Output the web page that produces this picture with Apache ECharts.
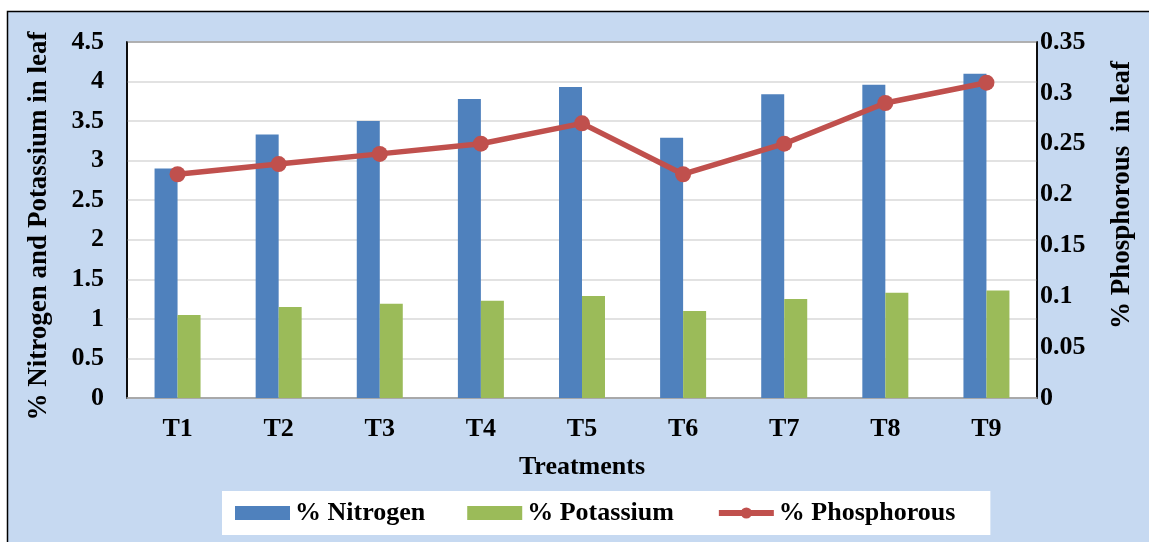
<!DOCTYPE html>
<html>
<head>
<meta charset="utf-8">
<script src="https://cdn.jsdelivr.net/npm/echarts@6/dist/echarts.min.js"></script>
<style>
html,body{margin:0;padding:0;background:#fff;}
#c{width:1149px;height:542px;}
</style>
</head>
<body>
<div id="c"></div>
<script>
const categories = ['T1','T2','T3','T4','T5','T6','T7','T8','T9'];
const nitrogen = [2.90, 3.33, 3.50, 3.78, 3.93, 3.29, 3.84, 3.96, 4.10];
const potassium = [1.05, 1.15, 1.19, 1.23, 1.29, 1.10, 1.25, 1.33, 1.36];
const phosphorous = [0.22, 0.23, 0.24, 0.25, 0.27, 0.22, 0.25, 0.29, 0.31];

const font = 'Liberation Serif, Times New Roman, serif';
const txt = (size) => ({fontFamily: font, fontWeight: 'bold', fontSize: size, color: '#000'});
const chart = echarts.init(document.getElementById('c'));
chart.setOption({
  animation: false,
  backgroundColor: '#fff',
  graphic: [{
    type: 'rect', z: -10, silent: true,
    shape: {x: 7.5, y: 11.5, width: 1160, height: 560},
    style: {fill: '#C6D9F1', stroke: '#000', lineWidth: 1.5}
  }],
  grid: {
    left: 127, right: 112, top: 42, bottom: 144,
    show: true, backgroundColor: '#fff', borderColor: '#000', borderWidth: 1.5
  },
  legend: {
    bottom: 7, left: 222,
    backgroundColor: '#fff',
    padding: [9, 35, 9, 13],
    itemGap: 42,
    itemWidth: 55, itemHeight: 14,
    textStyle: txt(26),
    data: [
      {name: '% Nitrogen', icon: 'rect'},
      {name: '% Potassium', icon: 'rect'},
      {name: '% Phosphorous', lineStyle: {width: 6}}
    ]
  },
  xAxis: {
    type: 'category', data: categories,
    name: 'Treatments', nameLocation: 'middle', nameGap: 56,
    nameTextStyle: txt(26),
    axisTick: {show: false},
    axisLine: {lineStyle: {color: '#A6A6A6', width: 1.5}},
    axisLabel: Object.assign(txt(26), {margin: 18})
  },
  yAxis: [{
    type: 'value', min: 0, max: 4.5, interval: 0.5,
    name: '% Nitrogen and Potassium in leaf', nameLocation: 'middle', nameGap: 74, nameRotate: 90,
    nameTextStyle: Object.assign(txt(27), {padding: [0, 12, 0, 0]}),
    axisLine: {show: true, lineStyle: {color: '#000', width: 1.5}},
    axisTick: {show: false},
    splitLine: {lineStyle: {color: '#D9D9D9', width: 1.5}},
    axisLabel: Object.assign(txt(26), {margin: 23})
  }, {
    type: 'value', min: 0, max: 0.35, interval: 0.05,
    name: '% Phosphorous  in leaf', nameLocation: 'middle', nameGap: 72, nameRotate: 90,
    nameTextStyle: Object.assign(txt(27), {padding: [0, 0, 0, 50]}),
    axisLine: {show: true, lineStyle: {color: '#000', width: 1.5}},
    axisTick: {show: false},
    splitLine: {show: false},
    axisLabel: Object.assign(txt(26), {margin: 3,
      formatter: v => String(+v.toFixed(2))})
  }],
  series: [{
    name: '% Nitrogen', type: 'bar', data: nitrogen,
    barWidth: 23, barGap: '0%',
    itemStyle: {color: '#4F81BD'}
  }, {
    name: '% Potassium', type: 'bar', data: potassium,
    barWidth: 23, barGap: '0%',
    itemStyle: {color: '#9BBB59'}
  }, {
    name: '% Phosphorous', type: 'line', yAxisIndex: 1, data: phosphorous,
    symbol: 'circle', symbolSize: 16,
    lineStyle: {color: '#C0504D', width: 5.5},
    itemStyle: {color: '#C0504D'}
  }]
});
</script>
</body>
</html>
